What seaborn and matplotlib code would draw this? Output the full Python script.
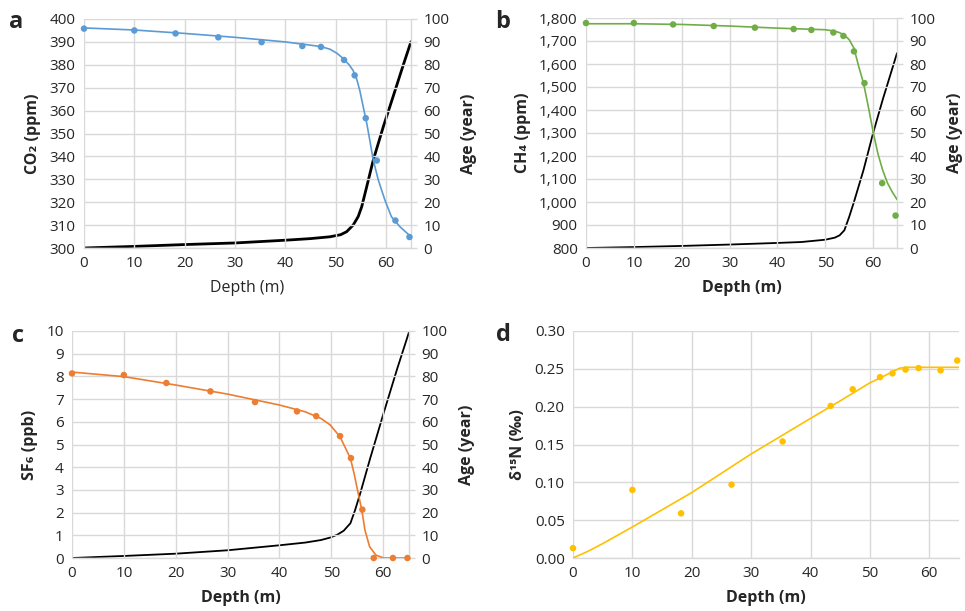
import numpy as np
import pandas as pd
import matplotlib
matplotlib.use("Agg")
import matplotlib.pyplot as plt
import seaborn as sns

# ---------------- data ----------------
depth_pts = [0.0, 10.0, 18.2, 26.7, 35.3, 43.4, 47.1, 51.7, 53.8, 56.0, 58.2, 61.9, 64.7]
co2_pts = [395.8, 395.0, 393.7, 392.0, 389.9, 388.2, 387.8, 382.1, 375.4, 356.7, 338.2, 312.0, 304.8]
ch4_pts = [1778, 1778, 1772, 1765, 1758, 1752, 1748, 1737, 1722, 1655, 1517, 1082, 941]
sf6_pts = [8.13, 8.06, 7.71, 7.34, 6.87, 6.46, 6.25, 5.37, 4.40, 2.13, 0.0, 0.0, 0.0]
d15n_pts = [0.013, 0.090, 0.059, 0.097, 0.154, 0.201, 0.223, 0.239, 0.244, 0.249, 0.251, 0.248, 0.261]

co2_fit_depth = [0, 10, 20, 30, 40, 47, 48.9, 50.3, 51.5, 52.7, 53.5, 54.2, 54.8, 55.5, 56.2, 56.8, 57.5, 58.5, 59.8, 61.1, 62.8, 65]
co2_fit = [396.1, 395.2, 393.7, 392.0, 390.0, 388.0, 386.8, 385.0, 382.8, 380.0, 377.5, 373.8, 369.0, 361.7, 354.5, 347.2, 338.4, 329.7, 321.0, 313.7, 309.3, 304.9]

age_a_depth = [0, 10, 20, 30, 40, 45, 48.9, 51, 52.2, 53.5, 54.5, 55.2, 56.2, 57.5, 59.5, 61.5, 63.4, 65]
age_a = [0, 0.7, 1.5, 2.2, 3.4, 4.1, 4.9, 5.8, 7.1, 10.0, 13.7, 18.0, 26.8, 38.4, 53.0, 66.5, 79.5, 90.1]

ch4_fit_depth = [0, 10, 20, 30, 40, 50, 52, 53, 54, 55, 56, 57, 58, 59, 60, 61, 62, 63, 64, 65]
ch4_fit = [1775, 1775, 1772, 1765, 1756, 1749, 1743, 1736, 1726, 1706, 1669, 1589, 1517, 1415, 1306, 1211, 1139, 1083, 1044, 1011]

age_b_depth = [0, 10, 20, 30, 40, 45, 50, 52, 53, 54, 55, 56, 58, 60, 62, 65]
age_b = [0, 0.4, 0.9, 1.5, 2.2, 2.6, 3.6, 4.5, 5.5, 7.7, 13.5, 20.0, 33.9, 49.9, 64.4, 84.7]

sf6_fit_depth = [0, 10, 20, 30, 40, 45, 48, 49.8, 51.7, 53.7, 54.4, 55.2, 55.9, 56.5, 57.4, 58.6, 60.1, 65]
sf6_fit = [8.19, 7.99, 7.62, 7.22, 6.74, 6.44, 6.15, 5.86, 5.34, 4.39, 3.73, 2.85, 2.11, 1.23, 0.50, 0.13, 0.0, 0.0]

age_c_depth = [0, 10, 20, 30, 40, 45, 48, 49.8, 51.2, 52.4, 53.7, 54.6, 55.6, 57.5, 60.1, 62.7, 65]
age_c = [0, 0.9, 1.9, 3.4, 5.6, 6.8, 7.9, 9.0, 10.3, 12.0, 15.3, 21.1, 28.5, 43.8, 63.8, 83.2, 99.5]

d15n_fit_depth = [0, 2.5, 5, 10, 15, 20, 25, 30, 35, 40, 45, 50, 52, 54, 55, 56, 65]
d15n_fit = [0.0, 0.0088, 0.019, 0.041, 0.0637, 0.0865, 0.112, 0.1375, 0.161, 0.1845, 0.2077, 0.2315, 0.239, 0.247, 0.2508, 0.252, 0.252]

x_ticks = [0, 10, 20, 30, 40, 50, 60]

# ---------------- style ----------------
sns.set_theme(style="white")
plt.rcParams['font.family'] = ['Open Sans', 'DejaVu Sans']

BLUE = "#5B9BD5"
GREEN = "#70AD47"
ORANGE = "#ED7D31"
YELLOW = "#FFC000"
GRID = "#D9D9D9"
TICKC = "#262626"
TICK_FS = 11
LAB_FS = 11.5

fig = plt.figure(figsize=(9.65, 6.11), dpi=100)
W, H = 965, 611


def make_ax(l, r, t, b):
    return fig.add_axes([l / W, 1 - b / H, (r - l) / W, (b - t) / H])


def style_main(ax, ylim, yticks, yfmt=None):
    ax.set_xlim(0, 65)
    ax.set_ylim(*ylim)
    ax.set_xticks(x_ticks)
    ax.set_yticks(yticks)
    if yfmt is not None:
        ax.set_yticklabels([yfmt(v) for v in yticks])
    ax.grid(True, color=GRID, linewidth=1.0)
    ax.set_axisbelow(True)
    for s in ["top", "right", "left"]:
        ax.spines[s].set_visible(False)
    ax.spines["bottom"].set_color(GRID)
    ax.spines["bottom"].set_linewidth(1.0)
    ax.tick_params(axis="both", length=0, labelsize=TICK_FS, colors=TICKC, pad=6)
    ax.set_facecolor("none")


def style_right(ax):
    ax.set_ylim(0, 100)
    ax.set_yticks(range(0, 101, 10))
    for s in ["top", "left", "bottom"]:
        ax.spines[s].set_visible(False)
    ax.spines["right"].set_color(GRID)
    ax.spines["right"].set_linewidth(1.0)
    ax.tick_params(axis="y", length=4, width=1, color=GRID, labelsize=TICK_FS, labelcolor=TICKC, pad=5)
    ax.grid(False)


def panel(l, r, t, b, xs, ys, fx, fy, color, ylim, yticks, ylabel, xlab_bold,
          age_x=None, age_y=None, age_lw=1.3, yfmt=None):
    ax = make_ax(l, r, t, b)
    style_main(ax, ylim, yticks, yfmt)
    fit_df = pd.DataFrame({"Depth": fx, "val": fy})
    pts_df = pd.DataFrame({"Depth": xs, "val": ys})
    if age_x is not None:
        ax2 = ax.twinx()
        style_right(ax2)
        age_df = pd.DataFrame({"Depth": age_x, "Age": age_y})
        sns.lineplot(data=age_df, x="Depth", y="Age", ax=ax2, color="black", linewidth=age_lw, sort=False)
        ax2.set_ylabel("Age (year)", fontsize=LAB_FS, fontweight="bold", labelpad=8)
        ax2.set_xlim(0, 65)
        ax.set_zorder(ax2.get_zorder() + 1)
    sns.lineplot(data=fit_df, x="Depth", y="val", ax=ax, color=color, linewidth=1.2, sort=False, zorder=3)
    sns.scatterplot(data=pts_df, x="Depth", y="val", ax=ax, color=color, s=22, edgecolor="none", zorder=4, clip_on=False)
    ax.set_xlabel("Depth (m)", fontsize=LAB_FS, fontweight="bold" if xlab_bold else "normal", labelpad=6)
    ax.set_ylabel(ylabel, fontsize=LAB_FS, fontweight="bold", labelpad=6)
    return ax


# panel a
panel(84, 411, 19, 248, depth_pts, co2_pts, co2_fit_depth, co2_fit, BLUE,
      (300, 400), list(range(300, 401, 10)), "CO₂ (ppm)", False,
      age_a_depth, age_a, age_lw=2.0)
fig.text(16 / W, 1 - 22 / H, "a", fontsize=17, fontweight="bold", ha="center", va="center")

# panel b
panel(586, 897, 18, 248, depth_pts, ch4_pts, ch4_fit_depth, ch4_fit, GREEN,
      (800, 1800), list(range(800, 1801, 100)), "CH₄ (ppm)", True,
      age_b_depth, age_b, age_lw=1.3, yfmt=lambda v: f"{v:,}")
fig.text(503 / W, 1 - 22 / H, "b", fontsize=17, fontweight="bold", ha="center", va="center")

# panel c
panel(72, 409, 331, 558, depth_pts, sf6_pts, sf6_fit_depth, sf6_fit, ORANGE,
      (0, 10), list(range(0, 11, 1)), "SF₆ (ppb)", True,
      age_c_depth, age_c, age_lw=1.3)
fig.text(18 / W, 1 - 336 / H, "c", fontsize=17, fontweight="bold", ha="center", va="center")

# panel d
panel(573, 959, 331, 558, depth_pts, d15n_pts, d15n_fit_depth, d15n_fit, YELLOW,
      (0, 0.30), [0.0, 0.05, 0.10, 0.15, 0.20, 0.25, 0.30], "δ¹⁵N (‰)", True,
      yfmt=lambda v: f"{v:.2f}")
fig.text(503 / W, 1 - 335 / H, "d", fontsize=17, fontweight="bold", ha="center", va="center")

fig.savefig("out.png", dpi=100, facecolor="white")
